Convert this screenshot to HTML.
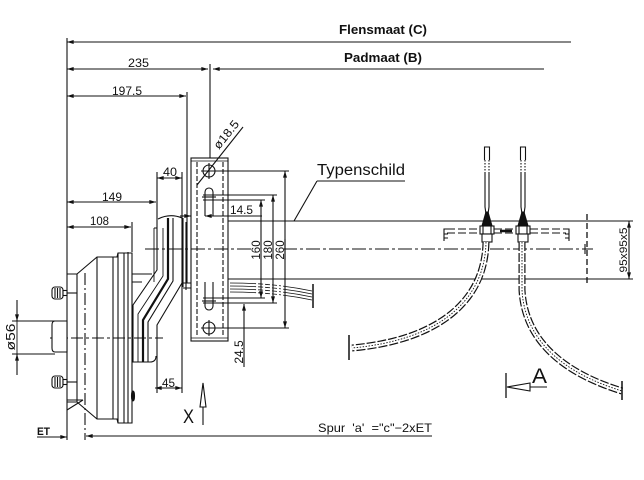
<!DOCTYPE html>
<html><head><meta charset="utf-8"><style>
html,body{margin:0;padding:0;background:#fff;width:644px;height:480px;overflow:hidden}
svg{display:block}
text{font-family:"Liberation Sans",sans-serif;fill:#111;stroke:none}
</style></head><body>
<svg width="644" height="480" viewBox="0 0 644 480" xmlns="http://www.w3.org/2000/svg">
<defs>
<marker id="ar" viewBox="0 0 10 6" refX="10" refY="3" markerWidth="7" markerHeight="4" markerUnits="userSpaceOnUse" orient="auto-start-reverse"><path d="M0,0L10,3L0,6z" fill="#111" stroke="none"/></marker>
<path id="c1" d="M486,242 C485,300 440,340 352,348"/>
<path id="c2" d="M522,242 L522,290 C525,345 570,375 622,391"/>
</defs>
<g fill="none" stroke="#111" stroke-width="1.1">
<path d="M67,38V440"/>
<path d="M67,42H571" marker-start="url(#ar)"/>
<path d="M67,69H208" marker-start="url(#ar)" marker-end="url(#ar)"/>
<path d="M213,69H544" marker-start="url(#ar)"/>
<path d="M210,64V165"/>
<path d="M67,96H186" marker-start="url(#ar)" marker-end="url(#ar)" stroke-width="0.9"/>
<path d="M187,92V283"/>
<path d="M67,202H156" marker-start="url(#ar)" marker-end="url(#ar)"/>
<path d="M67,227H131" marker-start="url(#ar)" marker-end="url(#ar)"/>
<path d="M132,222V252"/>
<path d="M157,172V270L133,305V362"/>
<path d="M182,172V283L157,325V393"/>
<path d="M182,283V393"/>
<path d="M157,178H182" marker-start="url(#ar)" marker-end="url(#ar)"/>
<path d="M155,388H182" marker-start="url(#ar)" marker-end="url(#ar)"/>
<path d="M158,219Q170,213 182,218"/>
<path d="M163,228V276L138,314V362" stroke-width="0.9"/>
<path d="M168,218V279L143,320V362" stroke-width="2.2"/>
<path d="M173,218V281L148,322V362" stroke-width="1.1"/>
<path d="M154,228H157M154,228V282" stroke-width="0.9"/>
<path d="M132,362H150Q156,362 156,356"/>
<path d="M132,274H152M132,282H142"/>
<path d="M183,218V287M186,222V290M183,283H191M183,288H191"/>
<path d="M67,274H77L97,257H117L118,253H132V423H118L117,419H97L77,402H67"/>
<path d="M77,274V402M97,257V419M113,257V419M118,253V423M124,253V423M128,252V423"/>
<path d="M85,273V440" stroke-dasharray="12,3,2,3"/>
<path d="M50,338H163" stroke-dasharray="12,3,3,3"/>
<path d="M67,400H83M67,410L83,400"/>
<ellipse cx="133" cy="396" rx="1.5" ry="5" fill="#111"/>
<path d="M55,321H67V352H55Q52,352 52,348V325Q52,321 55,321Z" fill="#fff"/>
<g>
<rect x="52" y="287" width="11" height="12" rx="3" fill="#fff"/>
<path d="M55,288V298M57.5,288V298M60,288V298"/>
<rect x="63" y="290.5" width="4" height="5" fill="#fff"/>
<path d="M67,293H77"/>
</g>
<g>
<rect x="52" y="376" width="11" height="12" rx="3" fill="#fff"/>
<path d="M55,377V387M57.5,377V387M60,377V387"/>
<rect x="63" y="379.5" width="4" height="5" fill="#fff"/>
<path d="M67,382H77"/>
</g>
<path d="M12,321H55M12,354H55" stroke-width="0.9"/>
<path d="M17,300V321" marker-end="url(#ar)"/>
<path d="M17,375V354" marker-end="url(#ar)"/>
<path d="M17,321V354" stroke-width="0.9"/>
<rect x="191" y="158" width="37" height="183" fill="#fff"/>
<path d="M191,161H228M191,338H228" stroke-width="0.8"/>
<path d="M197,162V337M223,162V337" stroke-dasharray="5,2"/>
<path d="M191,249H228" stroke-dasharray="14,3,3,3"/>
<circle cx="209" cy="171" r="6"/>
<path d="M201,171H217M209,163V179"/>
<path d="M205,216V192A4,4 0 0 1 213,192V216"/>
<path d="M202,197H216"/>
<path d="M205,282V306A4,4 0 0 0 213,306V282"/>
<path d="M202,301H216"/>
<circle cx="209" cy="328" r="6"/>
<path d="M201,328H217M209,320V336"/>
<path d="M197,185L243,127"/>
<path d="M203,171H289M203,328H289M203,195H277M203,303H277M203,200H265M203,298H265" stroke-width="0.9"/>
<path d="M285,171V328" marker-start="url(#ar)" marker-end="url(#ar)"/>
<path d="M273,195V303" marker-start="url(#ar)" marker-end="url(#ar)"/>
<path d="M261,200V298" marker-start="url(#ar)" marker-end="url(#ar)"/>
<path d="M180,216H191" marker-end="url(#ar)"/>
<path d="M262,216H205" marker-end="url(#ar)"/>
<path d="M244,367V304" marker-end="url(#ar)"/>
<path d="M228,221H633M228,279H633"/>
<path d="M145,249H593" stroke-dasharray="14,3,3,3"/>
<path d="M585,244V254"/>
<path d="M587,214V283" stroke-dasharray="6,3" stroke-width="1.3"/>
<path d="M629,221V279" marker-start="url(#ar)" marker-end="url(#ar)"/>
<path d="M317,181H405M317,181L294,221"/>
<path d="M230,283Q275,283 312,291M230,286Q275,286 312,294M230,289Q275,289 312,297M230,292Q275,292 312,300" stroke-width="0.8" stroke-dasharray="26,2,5,2,5,2,5,2,2,2,60"/>
<path d="M313,284V308" stroke-width="1.5"/>
<g>
<path d="M484.5,160V147H489.5V160"/>
<path d="M485,160V172M489,160V172" stroke-dasharray="1.5,1.5"/>
<path d="M485,172V207L486,214M489,172V207L488,214"/>
<path d="M486,212L482,226H492L488,212Z" fill="#111"/>
<rect x="480" y="226" width="14" height="8" fill="#fff"/>
<path d="M483,226V234M491,226V234"/>
<rect x="482" y="234" width="10" height="8" fill="#fff"/>
</g>
<g>
<path d="M520.5,160V147H525.5V160"/>
<path d="M521,160V172M525,160V172" stroke-dasharray="1.5,1.5"/>
<path d="M521,172V207L522,214M525,172V207L524,214"/>
<path d="M522,212L518,226H528L524,212Z" fill="#111"/>
<rect x="516" y="226" width="14" height="8" fill="#fff"/>
<path d="M519,226V234M527,226V234"/>
<rect x="518" y="234" width="10" height="8" fill="#fff"/>
</g>
<path d="M447,229H480M494,229H516M530,229H566M447,233H480M494,233H516M530,233H566" stroke-dasharray="8,3"/>
<path d="M500,231H512" stroke-width="2.5"/>
<path d="M447,229H444V241M444,234H448M444,238H448"/>
<path d="M566,229H569V241M565,234H569M565,238H569"/>
<use href="#c1" stroke="#111" stroke-width="7" stroke-dasharray="9,2"/>
<use href="#c1" stroke="#fff" stroke-width="4.6"/>
<use href="#c1" stroke="#111" stroke-width="0.9" stroke-dasharray="1.5,1.5"/>
<use href="#c2" stroke="#111" stroke-width="7" stroke-dasharray="9,2"/>
<use href="#c2" stroke="#fff" stroke-width="4.6"/>
<use href="#c2" stroke="#111" stroke-width="0.9" stroke-dasharray="1.5,1.5"/>
<path d="M349,335V360" stroke-width="1.5"/>
<path d="M622,381V400" stroke-width="1.5"/>
<path d="M506,373V398" stroke-width="1.3"/>
<path d="M530,387H547"/>
<path d="M507,387L530,383V391Z" fill="#fff"/>
<path d="M203,425V407"/>
<path d="M200,407L203,383L206,407Z" fill="#fff"/>
<path d="M37,437H67" marker-end="url(#ar)"/>
<path d="M432,436H86" marker-end="url(#ar)"/>
</g>
<rect x="251" y="239" width="33" height="21" fill="#fff"/>
<g fill="none" stroke="#111" stroke-width="1.1">
<path d="M261,239V260M273,239V260M285,239V260"/>
</g>
<text x="339" y="34" font-size="13" font-weight="bold" textLength="88" lengthAdjust="spacingAndGlyphs">Flensmaat (C)</text>
<text x="344" y="62" font-size="13" font-weight="bold" textLength="78" lengthAdjust="spacingAndGlyphs">Padmaat (B)</text>
<text x="128" y="67" font-size="12" textLength="21" lengthAdjust="spacingAndGlyphs">235</text>
<text x="112" y="95" font-size="12" textLength="30" lengthAdjust="spacingAndGlyphs">197.5</text>
<text x="102" y="201" font-size="12" textLength="20" lengthAdjust="spacingAndGlyphs">149</text>
<text x="90" y="225" font-size="12" textLength="19" lengthAdjust="spacingAndGlyphs">108</text>
<text x="163" y="176" font-size="12" textLength="14" lengthAdjust="spacingAndGlyphs">40</text>
<text x="162" y="387" font-size="12" textLength="13" lengthAdjust="spacingAndGlyphs">45</text>
<text x="230" y="214" font-size="12" textLength="23" lengthAdjust="spacingAndGlyphs">14.5</text>
<text transform="translate(219,150) rotate(-51)" font-size="12" textLength="33" lengthAdjust="spacingAndGlyphs">ø18.5</text>
<text transform="translate(260,250) rotate(-90)" font-size="11.5" text-anchor="middle">160</text>
<text transform="translate(272,250) rotate(-90)" font-size="11.5" text-anchor="middle">180</text>
<text transform="translate(284,250) rotate(-90)" font-size="11.5" text-anchor="middle">260</text>
<text transform="translate(243,352) rotate(-90)" font-size="12" text-anchor="middle">24.5</text>
<text transform="translate(15,337) rotate(-90)" font-size="13" text-anchor="middle" textLength="27" lengthAdjust="spacingAndGlyphs">ø56</text>
<text transform="translate(627,250) rotate(-90)" font-size="11" text-anchor="middle" textLength="45" lengthAdjust="spacingAndGlyphs">95x95x5</text>
<text x="317" y="175" font-size="15.5" textLength="88" lengthAdjust="spacingAndGlyphs">Typenschild</text>
<text x="183" y="423" font-size="19" textLength="11" lengthAdjust="spacingAndGlyphs">X</text>
<text x="532" y="383" font-size="21" textLength="15" lengthAdjust="spacingAndGlyphs">A</text>
<text x="37" y="435" font-size="11" font-weight="bold" textLength="13" lengthAdjust="spacingAndGlyphs">ET</text>
<text x="318" y="432" font-size="12" textLength="114" lengthAdjust="spacingAndGlyphs" xml:space="preserve">Spur  'a'  ="c"−2xET</text>
</svg>
</body></html>
